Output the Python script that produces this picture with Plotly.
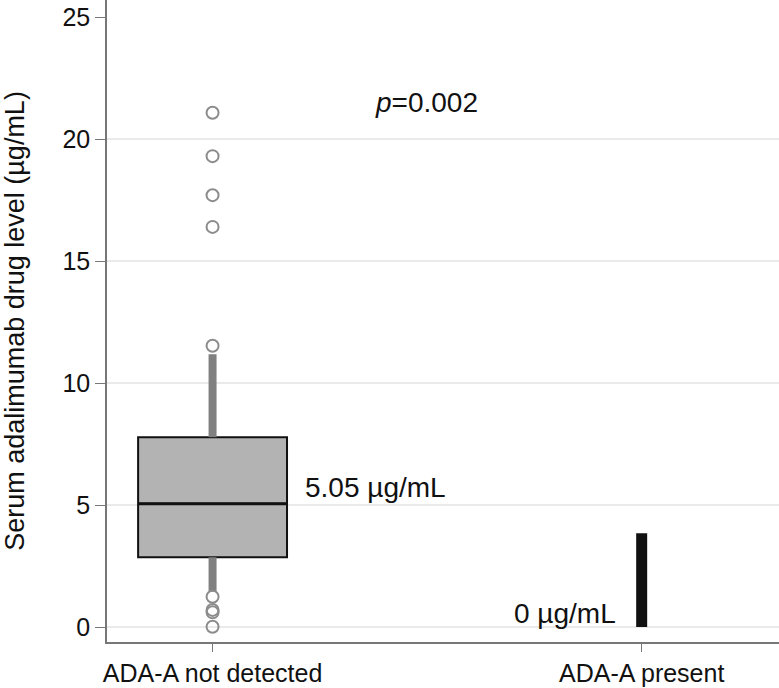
import plotly.graph_objects as go

categories = ["ADA-A not detected", "ADA-A present"]
cat_pos = [0, 1]

# Group 1 box statistics
q1 = 2.86
median = 5.05
q3 = 7.78
upper_whisker = 11.18
lower_whisker = 1.45
outliers = [21.08, 19.3, 17.7, 16.4, 11.53, 1.24, 0.70, 0.60, 0.01]

# Group 2 (all near zero; whisker only)
present_low = 0.0
present_high = 3.84

y_ticks = [0, 5, 10, 15, 20, 25]
grid_vals = [0, 5, 10, 15, 20]

FONT = "Liberation Sans, Arial, sans-serif"

fig = go.Figure()

# whiskers group 1
fig.add_trace(go.Scatter(x=[cat_pos[0], cat_pos[0]], y=[q3, upper_whisker], mode="lines",
                         line=dict(color="#808080", width=8), hoverinfo="skip", showlegend=False))
fig.add_trace(go.Scatter(x=[cat_pos[0], cat_pos[0]], y=[lower_whisker, q1], mode="lines",
                         line=dict(color="#808080", width=8), hoverinfo="skip", showlegend=False))

# box group 1
fig.add_trace(go.Box(x=[cat_pos[0]], q1=[q1], median=[median], q3=[q3],
                     lowerfence=[q1], upperfence=[q3], width=0.347,
                     fillcolor="#b3b3b3", line=dict(color="#111111", width=2),
                     boxpoints=False, showlegend=False))
# thicker median line
fig.add_trace(go.Scatter(x=[cat_pos[0] - 0.1735, cat_pos[0] + 0.1735], y=[median, median], mode="lines",
                         line=dict(color="#111111", width=3), hoverinfo="skip", showlegend=False))

# outliers
fig.add_trace(go.Scatter(x=[cat_pos[0]] * len(outliers), y=outliers, mode="markers",
                         marker=dict(symbol="circle-open", size=12, color="#8c8c8c", line=dict(width=2)),
                         showlegend=False))

# group 2
fig.add_trace(go.Scatter(x=[cat_pos[1], cat_pos[1]], y=[present_low, present_high], mode="lines",
                         line=dict(color="#111111", width=11), hoverinfo="skip", showlegend=False))

shapes = [dict(type="line", xref="paper", x0=0, x1=1, yref="y", y0=g, y1=g,
               line=dict(color="#e3e3e3", width=1.5), layer="below") for g in grid_vals]

annotations = [
    dict(x=0.21, y=5.7, text="5.05 µg/mL", showarrow=False, xanchor="left", yanchor="middle",
         font=dict(size=28, color="#111111", family=FONT)),
    dict(x=0.4995, y=21.5, text="<i>p</i>=0.002", showarrow=False, xanchor="center", yanchor="middle",
         font=dict(size=28, color="#111111", family=FONT)),
    dict(x=0.945, y=0.57, text="0 µg/mL", showarrow=False, xanchor="right", yanchor="middle",
         font=dict(size=28, color="#111111", family=FONT)),
]

fig.update_layout(
    width=779, height=688,
    margin=dict(l=107, r=0, t=0, b=46),
    plot_bgcolor="white", paper_bgcolor="white",
    font=dict(family=FONT, size=25, color="#111111"),
    shapes=shapes, annotations=annotations,
    xaxis=dict(range=[-0.246, 1.32], tickvals=cat_pos, ticktext=categories,
               showgrid=False, zeroline=False, showline=True, linecolor="#777777", linewidth=1.5,
               ticks="outside", ticklen=8, tickcolor="#777777", tickfont=dict(size=25)),
    yaxis=dict(range=[-0.615, 25.7], tickvals=y_ticks, showgrid=False, zeroline=False,
               showline=True, linecolor="#777777", linewidth=1.5,
               ticks="outside", ticklen=10, tickcolor="#777777", tickfont=dict(size=25),
               title=dict(text="Serum adalimumab drug level (µg/mL)", font=dict(size=27), standoff=33)),
)

fig.write_html("out.html")
